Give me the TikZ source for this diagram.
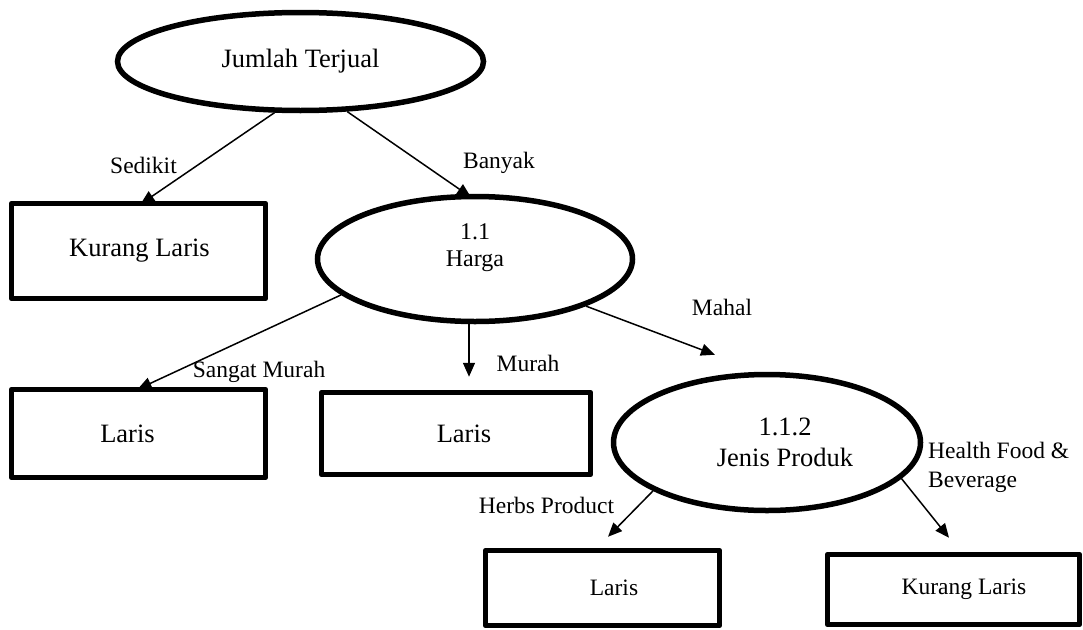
\documentclass[tikz,border=0pt]{standalone}
\usepackage{fontspec}
\setmainfont{Liberation Serif}
\usetikzlibrary{arrows.meta,shapes.geometric,backgrounds}
\begin{document}
\begin{tikzpicture}[x=1pt, y=-1pt,
  proses/.style={draw, ellipse, line width=5.5pt, fill=white, inner sep=0pt, align=center},
  hasil/.style={draw, rectangle, line width=5.5pt, line join=round, fill=white, inner sep=0pt},
  panah/.style={line width=1.5pt, -{Triangle[length=14pt,width=12pt]}},
  ket/.style={inner sep=0pt, font=\fontsize{23.5}{29}\selectfont}]
\useasboundingbox (0,0) rectangle (1083,629);
\node[proses, minimum width=366pt, minimum height=98pt, font=\fontsize{26.5}{30}\selectfont] (jt) at (300.5,61.5) {Jumlah Terjual};
\node[proses, minimum width=315pt, minimum height=125pt, font=\fontsize{24}{27}\selectfont] (hg) at (475,259) {1.1\\Harga\\\mbox{}};
\node[proses, minimum width=307pt, minimum height=136pt, font=\fontsize{26.5}{31}\selectfont] (jp) at (767,442.5) {\hspace*{36pt}1.1.2\\\hspace*{36pt}Jenis Produk};
\foreach \nama/\px/\py/\lebar/\tinggi/\ukuran/\geser/\isi in {
  kl/138.5/251/254/95/26.5/2/Kurang Laris,
  l1/138.5/433.5/254/88/26.5/-22/Laris,
  l2/456/433.5/269/82/26.5/16/Laris,
  b1/602.5/588/234/75/23.5/23/Laris,
  b2/953.5/589.5/252/70/23.5/21/Kurang Laris}
{
  \node[hasil, minimum width=\lebar pt, minimum height=\tinggi pt, font=\fontsize{\ukuran}{\ukuran}\selectfont] (\nama) at (\px,\py) {\hspace*{\geser pt}\isi};
}
\coordinate (ujung) at ([xshift=-52pt,yshift=17pt]jp.north);
\begin{scope}[on background layer]
\draw[panah, shorten >=-6pt] (jt.243) -- ([xshift=7pt]kl.north);
\draw[panah, shorten >=-6pt] (jt.313) -- ([xshift=-9pt]hg.north);
\draw[panah, shorten >=-6pt] (hg.195) -- ([xshift=4.5pt]l1.north);
\draw[panah] ([xshift=-6pt]hg.south) -- ([xshift=13pt,yshift=13pt]l2.north);
\draw[panah] (hg.337.7) -- (ujung);
\draw[panah] (jp.203) -- ([xshift=5.5pt,yshift=11pt]b1.north);
\draw[panah] (jp.345) -- ([xshift=-4.5pt,yshift=14pt]b2.north);
\end{scope}
\node[ket] (sedikit) at (143.5,165) {Sedikit};
\node[ket] (banyak) at (499,163) {Banyak};
\node[ket] (sangat) at (259,372) {Sangat Murah};
\node[ket] (murah) at (528,363) {Murah};
\node[ket] (mahal) at (722,307) {Mahal};
\node[ket] (herbs) at (546.5,505) {Herbs Product};
\node[ket, align=left, anchor=west] (health) at (928,467) {Health Food \&\\Beverage};
\end{tikzpicture}
\end{document}
